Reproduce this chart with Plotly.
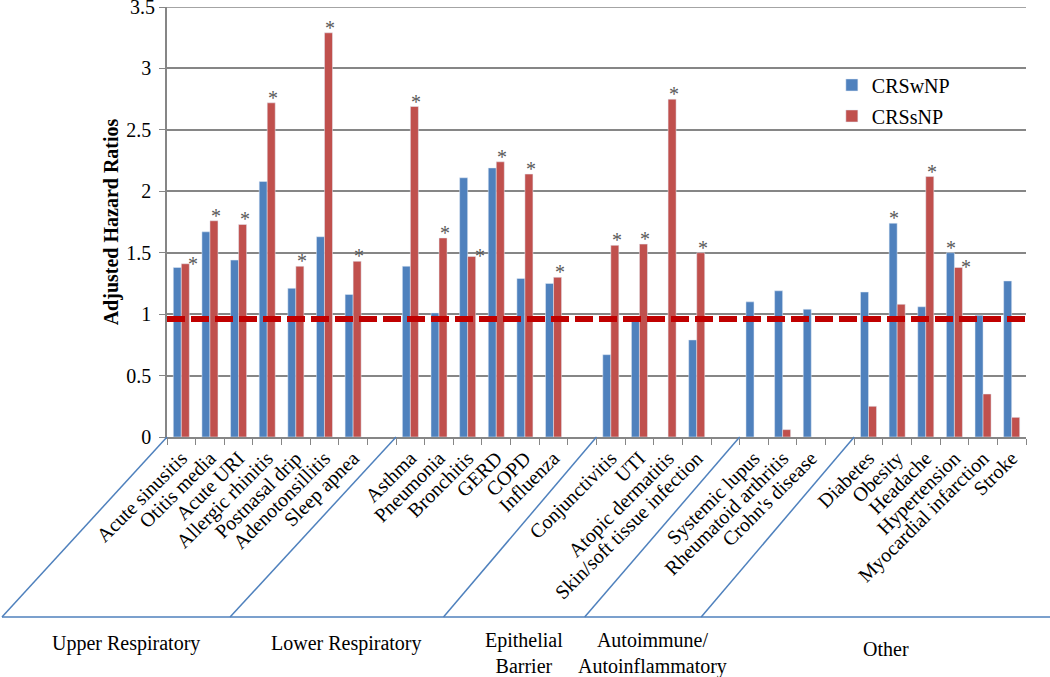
import plotly.graph_objects as go

# categories, with blank slots between the disease groups
categories = [
	'Acute sinusitis', 'Otitis media', 'Acute URI', 'Allergic rhinitis', 'Postnasal drip', 'Adenotonsillitis', 'Sleep apnea', ' ',
	'Asthma', 'Pneumonia', 'Bronchitis', 'GERD', 'COPD', 'Influenza', '  ',
	'Conjunctivitis', 'UTI', 'Atopic dermatitis', 'Skin/soft tissue infection', '   ',
	'Systemic lupus', 'Rheumatoid arthritis', "Crohn's disease", '    ',
	'Diabetes', 'Obesity', 'Headache', 'Hypertension', 'Myocardial infarction', 'Stroke'
]

crswnp = [
	1.38, 1.67, 1.44, 2.08, 1.21, 1.63, 1.16, None,
	1.39, 1.01, 2.11, 2.19, 1.29, 1.25, None,
	0.67, 0.96, None, 0.79, None,
	1.10, 1.19, 1.04, None,
	1.18, 1.74, 1.06, 1.50, 0.99, 1.27
]

crssnp = [
	1.41, 1.76, 1.73, 2.72, 1.39, 3.29, 1.43, None,
	2.69, 1.62, 1.47, 2.24, 2.14, 1.30, None,
	1.56, 1.57, 2.75, 1.50, None,
	None, 0.06, None, None,
	0.25, 1.08, 2.12, 1.38, 0.35, 0.16
]

sig_wnp = ['Obesity', 'Hypertension']
sig_snp = [
	'Acute sinusitis', 'Otitis media', 'Acute URI', 'Allergic rhinitis', 'Postnasal drip', 'Adenotonsillitis', 'Sleep apnea',
	'Asthma', 'Pneumonia', 'Bronchitis', 'GERD', 'COPD', 'Influenza',
	'Conjunctivitis', 'UTI', 'Atopic dermatitis', 'Skin/soft tissue infection',
	'Headache', 'Hypertension'
]

groups       = ['Upper Respiratory', 'Lower Respiratory', 'Epithelial<br>Barrier', 'Autoimmune/<br>Autoinflammatory', 'Other']
group_starts = [0, 8, 15, 20, 24]
reference_hr = 0.96
y_max        = 3.5

blue = '#4F81BD'
red  = '#C0504D'
grey = '#868686'
font = 'Times New Roman, Liberation Serif, serif'

W, H   = 1050, 677
ml, mr = 167, 24
mt, mb = 7, 240
pw     = W - ml - mr
ph     = H - mt - mb
n      = len(categories)

fig = go.Figure()
fig.add_trace(go.Bar(x = categories, y = crswnp, name = 'CRSwNP', marker = dict(color = blue), legendgroup = 'a'))
fig.add_trace(go.Bar(x = categories, y = crssnp, name = 'CRSsNP', marker = dict(color = red), legendgroup = 'b'))

# significance stars
star_font = dict(family = font, size = 20, color = '#595959')
side = ['Acute sinusitis', 'Bronchitis', 'Hypertension']
for c, v in zip(categories, crssnp):
	if c in sig_snp:
		if c in side:
			fig.add_annotation(x = c, y = v, text = '*', showarrow = False, xshift = 12, yshift = 0, yanchor = 'middle', font = star_font)
		else:
			fig.add_annotation(x = c, y = v, text = '*', showarrow = False, xshift = 6, yshift = -8, yanchor = 'bottom', font = star_font)
for c, v in zip(categories, crswnp):
	if c in sig_wnp:
		fig.add_annotation(x = c, y = v, text = '*', showarrow = False, xshift = -3, yshift = -8, yanchor = 'bottom', font = star_font)

# top gridline and its label (plotly drops the tick at the very edge)
fig.add_shape(type = 'line', xref = 'paper', yref = 'y', x0 = 0, x1 = 1, y0 = y_max, y1 = y_max,
	line = dict(color = grey, width = 1.5), layer = 'below')
fig.add_annotation(xref = 'paper', yref = 'y', x = 0, y = y_max, text = str(y_max), showarrow = False,
	xanchor = 'right', yanchor = 'middle', xshift = -10, font = dict(family = font, size = 20, color = 'black'))

# reference line
fig.add_shape(type = 'line', xref = 'paper', yref = 'y', x0 = 0, x1 = 1, y0 = reference_hr, y1 = reference_hr,
	line = dict(color = '#C00000', width = 6, dash = '18px,6px'), layer = 'above')

# group separators below the axis
y_bot = -180 / ph
dx    = [165, 166, 153, 155, 153]
bottoms = []
for s, d in zip(group_starts, dx):
	xt = s / n
	xb = xt - d / pw
	bottoms.append(xb)
	fig.add_shape(type = 'line', xref = 'paper', yref = 'paper', x0 = xt, x1 = xb, y0 = 0, y1 = y_bot,
		line = dict(color = blue, width = 1.5))
fig.add_shape(type = 'line', xref = 'paper', yref = 'paper', x0 = bottoms[0], x1 = (W - ml) / pw, y0 = y_bot, y1 = y_bot,
	line = dict(color = blue, width = 1.5))

edges   = bottoms + [(W - ml) / pw]
label_y = [-206, -206, -216, -216, -212]
for i, g in enumerate(groups):
	xc = (edges[i] + edges[i + 1]) / 2 + 10 / pw
	fig.add_annotation(xref = 'paper', yref = 'paper', x = xc, y = label_y[i] / ph, text = g, showarrow = False,
		xanchor = 'center', yanchor = 'middle', align = 'center',
		font = dict(family = font, size = 20, color = 'black'))

fig.update_layout(
	width = W,
	height = H,
	margin = dict(l = ml, r = mr, t = mt, b = mb, pad = 0),
	font = dict(family = font, color = 'black', size = 20),
	plot_bgcolor = 'white',
	paper_bgcolor = 'white',
	barmode = 'group',
	bargap = 0.44,
	bargroupgap = 0,
	legend = dict(x = 0.774, y = 0.864, xanchor = 'left', yanchor = 'top', bgcolor = 'rgba(0,0,0,0)',
		font = dict(family = font, size = 20), tracegroupgap = 2),
	yaxis_title = dict(text = '<b>Adjusted Hazard Ratios</b>', font = dict(family = font, size = 20), standoff = 2)
)
fig.update_xaxes(
	type = 'category',
	categoryorder = 'array',
	categoryarray = categories,
	tickson = 'boundaries',
	ticks = 'outside',
	ticklen = 6,
	tickcolor = grey,
	tickangle = -45,
	showline = True,
	linecolor = grey,
	linewidth = 1.5,
	showgrid = False,
	tickfont = dict(family = font, size = 20, color = 'black')
)
fig.update_yaxes(
	range = [0, y_max],
	dtick = 0.5,
	ticks = 'outside',
	ticklen = 6,
	ticklabelstandoff = 4,
	tickcolor = grey,
	showline = True,
	linecolor = grey,
	linewidth = 1.5,
	gridcolor = grey,
	gridwidth = 1.5,
	zeroline = False,
	tickfont = dict(family = font, size = 20, color = 'black')
)

# drop the default page margin so the figure sits at the window's corner
fig.write_html('out.html', config = dict(displayModeBar = False),
	post_script = "document.body.style.margin = '0';")
